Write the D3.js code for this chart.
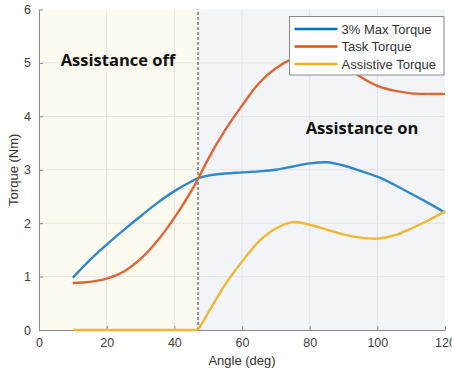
<!DOCTYPE html>
<html>
<head>
<meta charset="utf-8">
<script src="https://cdn.jsdelivr.net/npm/d3@7/dist/d3.min.js"></script>
<style>
  body { margin: 0; background: #fff; }
  svg { display: block; font-family: "Liberation Sans", Arial, sans-serif; }
</style>
</head>
<body>
<svg id="chart" width="452" height="372"></svg>
<script>
// data
const angles = [10, 15, 20, 25, 30, 35, 40, 45, 47, 50, 55, 60, 65, 70, 75, 80, 85, 90, 95, 100, 105, 110, 115, 120];
const maxTorque3 = [0.98, 1.31, 1.6, 1.87, 2.13, 2.38, 2.6, 2.78, 2.84, 2.89, 2.93, 2.95, 2.97, 3.0, 3.06, 3.12, 3.14, 3.08, 2.98, 2.87, 2.72, 2.55, 2.38, 2.2];
const taskTorque = [0.88, 0.9, 0.96, 1.09, 1.33, 1.67, 2.1, 2.6, 2.83, 3.2, 3.74, 4.2, 4.62, 4.9, 5.08, 5.18, 5.15, 4.97, 4.74, 4.57, 4.48, 4.43, 4.42, 4.42];
const assistTorque = [0, 0, 0, 0, 0, 0, 0, 0, 0, 0.32, 0.85, 1.28, 1.66, 1.9, 2.02, 1.97, 1.88, 1.79, 1.73, 1.71, 1.77, 1.9, 2.05, 2.22];
const seriesNames = ["3% Max Torque", "Task Torque", "Assistive Torque"];
const switchAngle = 47;
const xTicks = [0, 20, 40, 60, 80, 100, 120];
const yTicks = [0, 1, 2, 3, 4, 5, 6];

const lineColors = ["#2f88c9", "#de6636", "#eeb834"];
const legendColors = ["#0072bd", "#d95319", "#edb120"];

const svg = d3.select('#chart');
const plotLeft = 39, plotRight = 445, plotTop = 9.5, plotBottom = 330;

const x = d3.scaleLinear().domain([0, 120]).range([plotLeft, plotRight]);
const y = d3.scaleLinear().domain([0, 6]).range([plotBottom, plotTop]);

// shaded phases
svg.append('rect')
  .attr('x', x(0)).attr('y', y(6))
  .attr('width', x(switchAngle) - x(0)).attr('height', y(0) - y(6))
  .attr('fill', '#fdfbef');
svg.append('rect')
  .attr('x', x(switchAngle)).attr('y', y(6))
  .attr('width', x(120) - x(switchAngle)).attr('height', y(0) - y(6))
  .attr('fill', '#f3f4f7');

// grid
const grid = svg.append('g').attr('stroke', '#e3e3e3').attr('stroke-width', 1);
grid.selectAll('line.gx')
  .data(xTicks.slice(1, -1))
  .join('line')
  .attr('x1', d => x(d)).attr('x2', d => x(d))
  .attr('y1', y(0)).attr('y2', y(6));
grid.selectAll('line.gy')
  .data(yTicks.slice(1, -1))
  .join('line')
  .attr('x1', x(0)).attr('x2', x(120))
  .attr('y1', d => y(d)).attr('y2', d => y(d));

// axes (MATLAB style, ticks pointing in)
const xAxis = svg.append('g')
  .attr('transform', `translate(0,${y(0)})`)
  .call(d3.axisBottom(x).tickValues(xTicks).tickFormat(d3.format('d'))
    .tickSizeInner(-4).tickSizeOuter(0).tickPadding(8));
const yAxis = svg.append('g')
  .attr('transform', `translate(${x(0)},0)`)
  .call(d3.axisLeft(y).tickValues(yTicks).tickFormat(d3.format('d'))
    .tickSizeInner(-4).tickSizeOuter(0).tickPadding(8));
[xAxis, yAxis].forEach(a => {
  a.select('.domain').attr('stroke', '#8a8a8a');
  a.selectAll('.tick line').attr('stroke', '#8a8a8a');
  a.selectAll('.tick text').attr('fill', '#404040').style('font-size', '12.5px');
});

// switch line
svg.append('line')
  .attr('x1', x(switchAngle)).attr('x2', x(switchAngle))
  .attr('y1', y(0)).attr('y2', y(6))
  .attr('stroke', '#333').attr('stroke-width', 1)
  .attr('stroke-dasharray', '3,2');

// curves -- assistive torque is split at the switch so its corner stays sharp
const line = d3.line()
  .x(d => x(d[0]))
  .y(d => y(d[1]))
  .curve(d3.curveCatmullRom.alpha(0.5));

const toPts = vals => angles.map((a, k) => [a, vals[k]]);
const segments = [
  { pts: toPts(maxTorque3), c: 0 },
  { pts: toPts(taskTorque), c: 1 },
  { pts: toPts(assistTorque).filter(p => p[0] <= switchAngle), c: 2 },
  { pts: toPts(assistTorque).filter(p => p[0] >= switchAngle), c: 2 }
];

svg.append('g')
  .selectAll('path.series')
  .data(segments)
  .join('path')
  .attr('fill', 'none')
  .attr('stroke', d => lineColors[d.c])
  .attr('stroke-width', 2.4)
  .attr('d', d => line(d.pts));

// phase labels
svg.append('text')
  .attr('x', 118).attr('y', 66)
  .attr('text-anchor', 'middle')
  .style('font-family', '"Open Sans", sans-serif')
  .style('font-weight', 'bold').style('font-size', '16.5px')
  .attr('fill', '#111')
  .text('Assistance off');
svg.append('text')
  .attr('x', 362).attr('y', 134)
  .attr('text-anchor', 'middle')
  .style('font-family', '"Open Sans", sans-serif')
  .style('font-weight', 'bold').style('font-size', '16.5px')
  .attr('fill', '#111')
  .text('Assistance on');

// axis titles
svg.append('text')
  .attr('x', x(60)).attr('y', 365)
  .attr('text-anchor', 'middle')
  .attr('fill', '#333').style('font-size', '13px')
  .text('Angle (deg)');
svg.append('text')
  .attr('transform', `translate(18,${y(3)}) rotate(-90)`)
  .attr('text-anchor', 'middle')
  .attr('fill', '#333').style('font-size', '13px')
  .text('Torque (Nm)');

// legend
const legend = svg.append('g').attr('transform', 'translate(289.5,16.5)');
legend.append('rect')
  .attr('width', 154.5).attr('height', 58.5)
  .attr('fill', '#fff').attr('stroke', '#8a8a8a');
const rows = legend.selectAll('g.row')
  .data(seriesNames)
  .join('g')
  .attr('transform', (d, i) => `translate(0,${12.5 + i * 17.5})`);
rows.append('line')
  .attr('x1', 5).attr('x2', 48)
  .attr('stroke', (d, i) => legendColors[i]).attr('stroke-width', 2.4);
rows.append('text')
  .attr('x', 52).attr('y', 4.5)
  .attr('fill', '#333').style('font-size', '13px')
  .text(d => d);
</script>
</body>
</html>
